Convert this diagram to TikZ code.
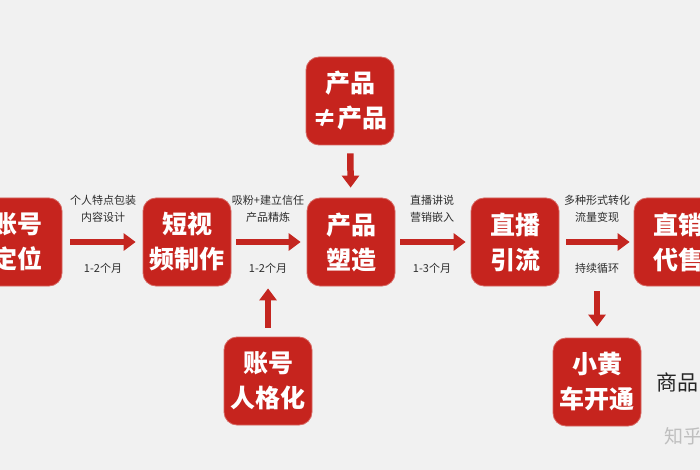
\documentclass[tikz,border=0pt]{standalone}
\usepackage{fontspec}
\setmainfont{Noto Sans CJK SC}
\usetikzlibrary{arrows.meta}
\definecolor{boxred}{RGB}{198,36,30}
\definecolor{arrred}{RGB}{196,38,32}
\definecolor{bg}{RGB}{241,241,241}
\definecolor{lbl}{RGB}{45,45,45}
\tikzset{
  redbox/.style={fill=boxred, draw=boxred!70!white, line width=0.8pt, rounded corners=13pt,
    minimum width=88pt, minimum height=88pt, text=white, align=center,
    font=\fontsize{25}{35}\selectfont\bfseries, inner sep=0pt},
  arr/.style={draw=arrred, line width=6.5pt, -{Triangle[length=12pt,width=17pt]}},
  lab/.style={text=lbl, font=\fontsize{11}{17}\selectfont, align=center, inner sep=0pt}
}
\begin{document}
\begin{tikzpicture}[x=1pt,y=-1pt]
\useasboundingbox (0,0) rectangle (700,470);
\clip (0,0) rectangle (700,470);
\fill[bg] (0,0) rectangle (700,470);
% boxes
\node[redbox] (a) at (18,242) {账号\\定位};
\node[redbox] (b) at (187,242) {短视\\频制作};
\node[redbox] (c) at (351,242) {产品\\塑造};
\node[redbox] (d) at (515,242) {直播\\引流};
\node[redbox] (e) at (678,242) {直销\\代售};
\node[redbox] (f) at (350,101) {产品\\≠产品};
\node[redbox] (g) at (268,381) {账号\\人格化};
\node[redbox] (h) at (597,382) {小黄\\车开通};
% horizontal arrows
\draw[arr, shorten <=8pt, shorten >=7pt] (a) -- (b);
\draw[arr, shorten <=5pt, shorten >=6pt] (b) -- (c);
\draw[arr, shorten <=5pt, shorten >=5pt] (c) -- (d);
\draw[arr, shorten <=7pt, shorten >=4pt] (d) -- (e);
% vertical arrows
\draw[arr, shorten <=8pt, shorten >=10pt] (f) -- (c);
\draw[arr, shorten <=9pt, shorten >=2pt] (g) -- (g |- b.south);
\draw[arr, shorten <=5pt, shorten >=11pt] (d.south -| h) -- (h);
% labels
\node[lab] (l1) at (103,209) {个人特点包装\\内容设计};
\node[lab] (l1b) at (103,268) {1-2个月};
\node[lab] (l2) at (268,209) {吸粉+建立信任\\产品精炼};
\node[lab] (l2b) at (268,268) {1-2个月};
\node[lab] (l3) at (432,209) {直播讲说\\营销嵌入};
\node[lab] (l3b) at (432,268) {1-3个月};
\node[lab] (l4) at (597,209) {多种形式转化\\流量变现};
\node[lab] (l4b) at (597,268) {持续循环};
% side texts
\node[anchor=west, text=black!85, font=\fontsize{21}{21}\selectfont, inner sep=0pt] (s) at (656,382) {商品};
\node[anchor=west, text=black!25, font=\fontsize{19}{19}\selectfont, inner sep=0pt] (w) at (664,437) {知乎 @};
\end{tikzpicture}
\end{document}
